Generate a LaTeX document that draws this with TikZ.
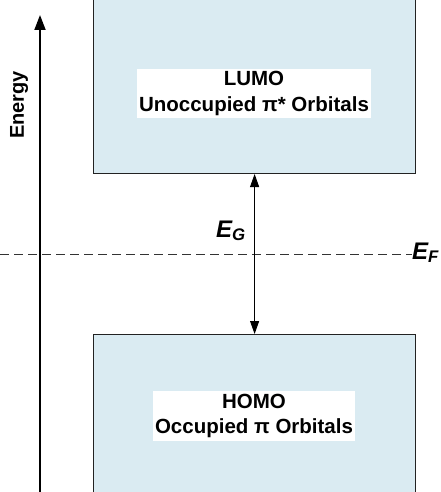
\documentclass[tikz,border=0pt]{standalone}
\usepackage{fontspec}
\setmainfont{Liberation Sans}
\usetikzlibrary{arrows.meta}
\definecolor{bandfill}{HTML}{DAEBF2}
\definecolor{edgegray}{HTML}{222222}
\begin{document}
\begin{tikzpicture}[x=1pt, y=-1pt,
  band/.style={draw=edgegray, line width=1.2pt, fill=bandfill, inner sep=0pt,
    minimum width=322pt, minimum height=190pt},
  tag/.style={fill=white, inner sep=0pt, align=center,
    font=\bfseries\fontsize{20.5}{25.5}\selectfont},
  level/.style={font=\bfseries\itshape\fontsize{24}{26}\selectfont, inner sep=0pt},
  gap/.style={line width=0.9pt, {Triangle[length=13pt,width=9pt]}-{Triangle[length=13pt,width=9pt]}},
  axis/.style={line width=1.8pt, -{Triangle[length=15pt,width=11pt]}},
  fermi/.style={line width=0.8pt, draw=black!80, dash pattern=on 9pt off 5pt},
]
\useasboundingbox (0,0) rectangle (441,492);
\clip (0,0) rectangle (441,492);

% energy bands
\node[band, anchor=south west] (lumo) at (93,174) {};
\node[band, anchor=north west] (homo) at (93,334) {};

% band labels
\node[tag, minimum width=234pt, minimum height=49pt] (lumotag) at (254,93.5)
  {LUMO\\Unoccupied π* Orbitals};
\node[tag, minimum width=202pt, minimum height=50pt] (homotag) at (254,416)
  {HOMO\\Occupied π Orbitals};

% energy axis
\coordinate (axbot) at (40,495);
\coordinate (axtop) at (40,15);
\draw[axis] (axbot) -- (axtop);
\node[rotate=90, font=\bfseries\fontsize{20}{22}\selectfont, inner sep=0pt] (energy) at (19,105) {Energy};

% Fermi level
\node[level, anchor=base west] (ef) at (412,259) {E\textsubscript{F}};
\coordinate (efstart) at (0,254);
\draw[fermi] (efstart) -- (ef.west |- efstart);

% band gap
\draw[gap] (lumo.south) -- (homo.north);
\node[level, anchor=base west] (eg) at (216,237) {E\textsubscript{G}};
\end{tikzpicture}
\end{document}
